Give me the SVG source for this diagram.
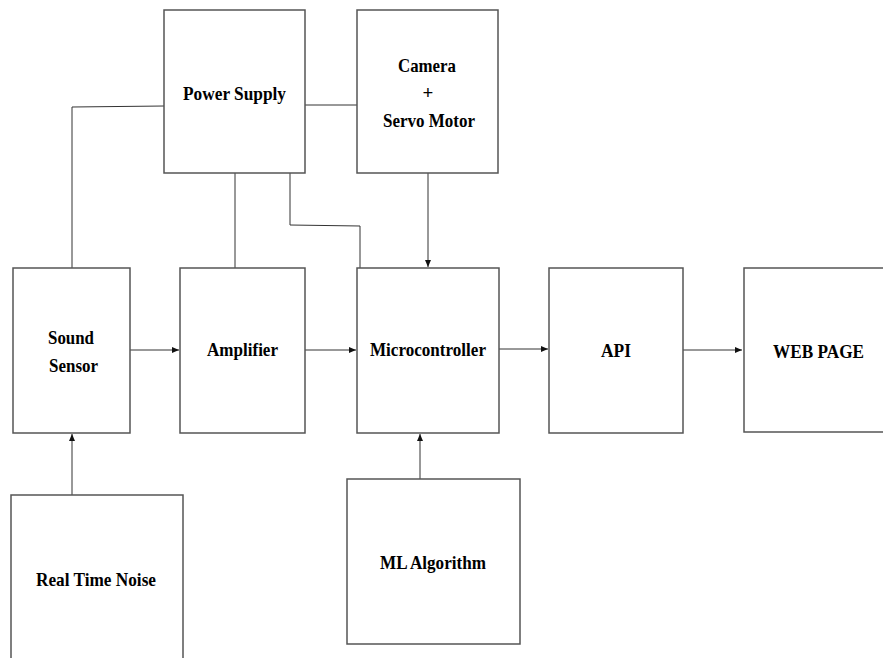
<svg xmlns="http://www.w3.org/2000/svg" width="883" height="658" viewBox="0 0 883 658">
<defs>
<style>
.box{fill:#fff;stroke:#555;stroke-width:1.5}
.lbl{font-family:"Liberation Serif","Times New Roman",serif;font-weight:bold;font-size:19px;fill:#000;text-anchor:middle}
.con{fill:none;stroke:#333;stroke-width:1}
</style>
<marker id="arr" markerWidth="8" markerHeight="8" refX="7" refY="4" orient="auto" markerUnits="userSpaceOnUse">
<path d="M0,1 L7,4 L0,7 Z" fill="#111"/>
</marker>
</defs>
<rect width="883" height="658" fill="#fff"/>
<g id="connectors">
<polyline class="con" points="164,106 72,107 72,268"/>
<line class="con" x1="305" y1="105" x2="357" y2="105"/>
<line class="con" x1="235" y1="173" x2="235" y2="268"/>
<polyline class="con" points="290,173 290,225 360,226 360,268"/>
<line class="con" x1="428" y1="173" x2="428" y2="267" marker-end="url(#arr)"/>
<line class="con" x1="130" y1="350" x2="179" y2="350" marker-end="url(#arr)"/>
<line class="con" x1="305" y1="350" x2="356" y2="350" marker-end="url(#arr)"/>
<line class="con" x1="499" y1="349" x2="548" y2="349" marker-end="url(#arr)"/>
<line class="con" x1="683" y1="350" x2="742" y2="350" marker-end="url(#arr)"/>
<line class="con" x1="72" y1="495" x2="72" y2="434" marker-end="url(#arr)"/>
<line class="con" x1="420" y1="479" x2="420" y2="434" marker-end="url(#arr)"/>
</g>
<g id="power-supply">
<rect class="box" x="164" y="10" width="141" height="163"/>
<text class="lbl" x="234.5" y="100" textLength="103" lengthAdjust="spacingAndGlyphs">Power Supply</text>
</g>
<g id="camera-servo">
<rect class="box" x="357" y="10" width="141" height="163"/>
<text class="lbl" x="427" y="72" textLength="58" lengthAdjust="spacingAndGlyphs">Camera</text>
<text class="lbl" x="428" y="99">+</text>
<text class="lbl" x="429" y="127" textLength="92" lengthAdjust="spacingAndGlyphs">Servo Motor</text>
</g>
<g id="sound-sensor">
<rect class="box" x="13" y="268" width="117" height="165"/>
<text class="lbl" x="71" y="344" textLength="46" lengthAdjust="spacingAndGlyphs">Sound</text>
<text class="lbl" x="73.5" y="372" textLength="49" lengthAdjust="spacingAndGlyphs">Sensor</text>
</g>
<g id="amplifier">
<rect class="box" x="180" y="268" width="125" height="165"/>
<text class="lbl" x="242.5" y="356" textLength="71" lengthAdjust="spacingAndGlyphs">Amplifier</text>
</g>
<g id="microcontroller">
<rect class="box" x="357" y="268" width="142" height="165"/>
<text class="lbl" x="428" y="356" textLength="116" lengthAdjust="spacingAndGlyphs">Microcontroller</text>
</g>
<g id="api">
<rect class="box" x="549" y="268" width="134" height="165"/>
<text class="lbl" x="616" y="357" textLength="30" lengthAdjust="spacingAndGlyphs">API</text>
</g>
<g id="web-page">
<rect class="box" x="744" y="268" width="145" height="164"/>
<text class="lbl" x="818.5" y="358" textLength="91" lengthAdjust="spacingAndGlyphs">WEB PAGE</text>
</g>
<g id="real-time-noise">
<rect class="box" x="11" y="495" width="172" height="175"/>
<text class="lbl" x="96" y="586" textLength="120" lengthAdjust="spacingAndGlyphs">Real Time Noise</text>
</g>
<g id="ml-algorithm">
<rect class="box" x="347" y="479" width="173" height="165"/>
<text class="lbl" x="433" y="569" textLength="106" lengthAdjust="spacingAndGlyphs">ML Algorithm</text>
</g>
</svg>
